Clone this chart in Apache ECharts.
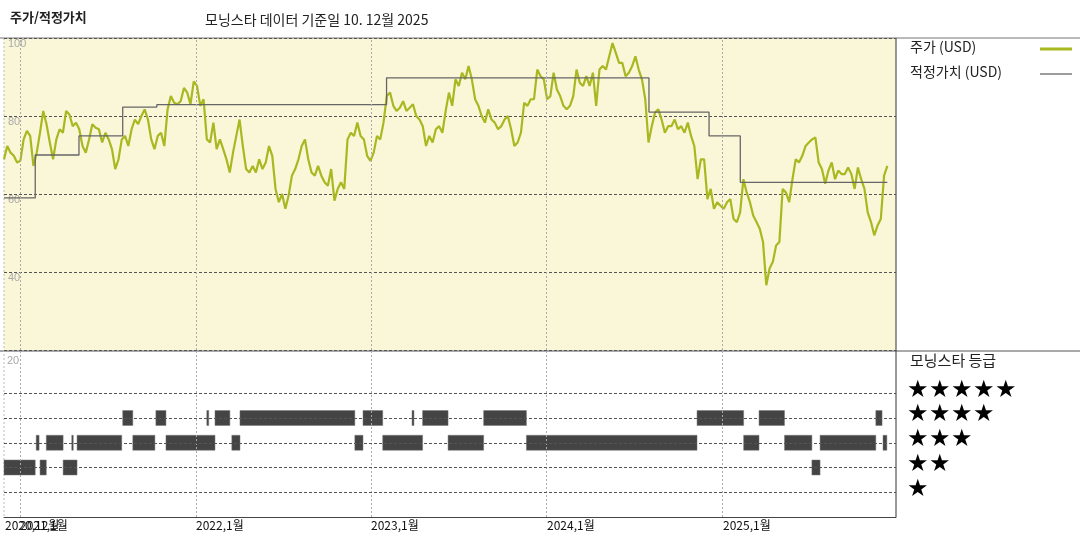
<!DOCTYPE html>
<html><head><meta charset="utf-8">
<script src="https://cdn.jsdelivr.net/npm/echarts@6/dist/echarts.min.js"></script>
<style>html,body{margin:0;padding:0;background:#fff}#c{width:1080px;height:540px}</style>
</head><body><div id="c"></div>
<script>
const priceStart = '2020-11-28';
const priceEnd = '2025-12-10';
const priceValues = [68.9,72.3,70.6,69.8,68.1,68.5,74,76.2,74.9,67.2,70.6,75.7,81.3,77.9,73.2,68.9,74,76.6,75.7,81.3,80.4,77.4,78.3,76.6,72.3,70.6,74,77.9,77,76.6,73.2,75.7,74,71.5,66.4,68.9,74,74.9,72.3,76.6,79.1,77.9,80,81.7,79.1,74,71.5,74.9,75.7,72.3,81.7,85.1,83.4,83,83.8,87.2,86,83,88.9,87.7,82.6,84.3,74,73.2,78.3,71.5,74,71.5,68.9,65.5,70.6,74.9,79.1,72.3,66.4,65.5,67.2,65.5,68.9,66.4,68.1,72.3,69.8,61.3,57.9,60,56.2,59.6,64.7,66.4,68.9,72.3,74,68.9,65.5,64.7,67.2,64.7,63,62.1,66.4,58.3,61.3,63,61.3,74,75.7,74.9,78.3,74.9,74,69.8,68.5,70.6,74.9,74,78.3,85.1,86,82.6,81.3,82.1,83.8,81.3,82.1,83,80,79.1,77.4,72.3,74.9,73.2,76.6,77.4,75.7,81.3,86,
82.6,89.4,87.7,91.1,89.4,92.8,89.4,84.3,82.6,80,78.3,81.7,79.1,78.3,76.6,77.4,79.1,80,76.6,72.3,73.2,75.7,83.4,82.6,84.3,84.3,91.9,90.2,89.4,84.3,85.1,91.1,86.8,85.1,82.6,81.7,82.6,85.1,91.9,88.5,87.7,90.2,87.7,91.1,82.6,91.9,92.8,91.9,95.3,98.7,96.2,93.6,93.6,90.2,91.1,92.8,95.3,91.9,89.4,84.3,73.2,77.4,80.9,81.7,79.1,75.7,77.4,77.4,79.1,76.6,77.4,75.7,78.3,74.9,72.3,63.8,68.9,68.9,58.7,61.3,56.2,57.9,57,56.2,57.9,58.7,53.6,52.8,55.3,63.8,60.4,57.9,54.5,52.8,51.1,47.7,36.6,40.9,42.6,46.8,47.7,61.3,60.4,57.9,63.8,68.9,68.1,69.8,72.3,73.2,74,74.5,68.1,66.4,62.6,66,68.1,63.8,66,65.1,65.1,66.8,65.1,61.3,66.8,63.8,61.3,55.3,52.8,49.4,51.9,53.6,64.7,67.2];
const fairDates = ['2020-11-28','2021-02-01','2021-05-03','2021-08-02','2021-10-12','2023-02-02','2024-08-01','2024-12-04','2025-02-07','2025-12-10'];
const fairValues = [59,70,74.9,82.3,82.9,89.8,81,74.9,63,63];
// rating segments: [start, end, stars]
const ratingSegments = [
 ['2020-11-28','2021-02-01',2],['2021-02-03','2021-02-09',3],['2021-02-11','2021-02-24',2],['2021-02-24','2021-03-31',3],
 ['2021-03-31','2021-04-29',2],['2021-04-18','2021-04-20',3],['2021-04-29','2021-07-31',3],['2021-08-02','2021-08-23',4],
 ['2021-08-23','2021-10-08',3],['2021-10-10','2021-10-31',4],['2021-10-31','2022-02-10',3],['2022-01-24','2022-01-28',4],
 ['2022-02-10','2022-03-13',4],['2022-03-17','2022-04-03',3],['2022-04-03','2022-11-28',4],['2022-11-28','2022-12-15',3],
 ['2022-12-15','2023-01-25',4],['2023-01-25','2023-04-18',3],['2023-03-27','2023-03-31',4],['2023-04-18','2023-06-10',4],
 ['2023-06-10','2023-08-23',3],['2023-08-23','2023-11-20',4],['2023-11-20','2024-11-09',3],['2024-11-09','2025-02-14',4],
 ['2025-02-14','2025-03-18',3],['2025-03-18','2025-05-10',4],['2025-05-10','2025-07-06',3],['2025-07-06','2025-07-23',2],
 ['2025-07-23','2025-11-16',3],['2025-11-16','2025-11-29',4],['2025-12-01','2025-12-09',3]
];
const tickDates = ['2020-12-01','2021-01-01','2022-01-01','2023-01-01','2024-01-01','2025-01-01'];
const tickLabels = ['2020,12월','2021,1월','2022,1월','2023,1월','2024,1월','2025,1월'];
const gridYears = ['2021-01-01','2022-01-01','2023-01-01','2024-01-01','2025-01-01'];
const priceTicks = [40,60,80,100];
const ratingLevels = [1,2,3,4,5];
const starLabels = ['★★★★★','★★★★','★★★','★★','★'];

const t0 = +new Date(priceStart), t1 = +new Date(priceEnd);
const priceData = priceValues.map((v,i)=>[t0+(t1-t0)*i/(priceValues.length-1), v]);
const fairData = fairDates.map((d,i)=>[d,fairValues[i]]);
const xMin = '2020-11-28', xMax = '2025-12-28';
const vlines = gridYears.map(d=>({xAxis:d}));
const KF = 'Noto Sans CJK KR';

const chart = echarts.init(document.getElementById('c'));
const baseGraphic = [
    {type:'line',shape:{x1:0,y1:38,x2:1080,y2:38},style:{stroke:'#777',lineWidth:1}},
    {type:'line',shape:{x1:0,y1:351,x2:1080,y2:351},style:{stroke:'#555',lineWidth:1}},
    {type:'line',shape:{x1:896,y1:38,x2:896,y2:517},style:{stroke:'#333',lineWidth:1}},
    {type:'line',shape:{x1:4,y1:38,x2:4,y2:517},style:{stroke:'#bbb',lineWidth:1,lineDash:[2,2]}},
    {type:'text',left:7,top:355,style:{text:'20',fill:'#aaa',fontSize:11}},
    {type:'text',left:910,top:40,style:{text:'주가 (USD)',fill:'#222',fontSize:14,fontFamily:KF}},
    {type:'line',shape:{x1:1040,y1:49,x2:1072,y2:49},style:{stroke:'#a8b820',lineWidth:3}},
    {type:'text',left:910,top:65,style:{text:'적정가치 (USD)',fill:'#222',fontSize:14,fontFamily:KF}},
    {type:'line',shape:{x1:1040,y1:74,x2:1072,y2:74},style:{stroke:'#666',lineWidth:1.3}},
    {type:'text',left:910,top:353,style:{text:'모닝스타 등급',fill:'#222',fontSize:15,fontFamily:KF}}
].concat(starLabels.map((s,i)=>({type:'text',left:907,top:378+i*24.8,style:{text:s,fill:'#000',fontSize:24}})));
chart.setOption({
  animation:false,
  grid:[{left:4,right:184,top:38,height:312,backgroundColor:'#faf6d8',show:true,borderWidth:0},
        {left:4,right:184,top:352,height:165,show:false}],
  title:[{text:'주가/적정가치',left:5,top:6,textStyle:{fontSize:13,fontWeight:'bold',color:'#222',fontFamily:KF}},
         {text:'모닝스타 데이터 기준일 10. 12월 2025',left:200,top:8,textStyle:{fontSize:14,fontWeight:'normal',color:'#222',fontFamily:KF}}],
  xAxis:[{type:'time',gridIndex:0,min:xMin,max:xMax,axisLine:{show:false},axisTick:{show:false},axisLabel:{show:false},splitLine:{show:false}},
         {type:'time',gridIndex:1,min:xMin,max:xMax,axisLine:{show:true,lineStyle:{color:'#444'}},axisTick:{show:false},splitLine:{show:false},axisLabel:{show:false}}],
  yAxis:[{type:'value',gridIndex:0,min:20,max:100,interval:20,axisLine:{show:false},axisTick:{show:false},
          splitLine:{show:true,lineStyle:{type:[3,2],color:'#555'}},
          axisLabel:{inside:true,verticalAlign:'top',color:'#aaa',fontSize:11,margin:4,formatter:v=>priceTicks.includes(v)?String(v):''}},
         {type:'value',gridIndex:1,min:0,max:6.667,axisLine:{show:false},axisTick:{show:false},splitLine:{show:false},axisLabel:{show:false}}],
  graphic:baseGraphic,
  series:[
    {name:'주가 (USD)',type:'line',xAxisIndex:0,yAxisIndex:0,data:priceData,showSymbol:false,
     lineStyle:{color:'#a8b820',width:2.2},itemStyle:{color:'#a8b820'},
     markLine:{silent:true,symbol:'none',label:{show:false},lineStyle:{type:[2,2],color:'#aaa',width:1},data:vlines}},
    {name:'적정가치 (USD)',type:'line',step:'end',xAxisIndex:0,yAxisIndex:0,data:fairData,showSymbol:false,
     lineStyle:{color:'#666',width:1.3},itemStyle:{color:'#666'}},
    {name:'rating',type:'custom',xAxisIndex:1,yAxisIndex:1,data:ratingSegments.map(s=>[+new Date(s[0]),+new Date(s[1]),s[2]]),
     encode:{x:[0,1],y:2},
     renderItem:(params,api)=>{
       const a=api.coord([api.value(0),api.value(2)]), b=api.coord([api.value(1),api.value(2)]);
       return {type:'rect',shape:{x:a[0],y:a[1]-7.5,width:Math.max(b[0]-a[0],1.5),height:15},style:{fill:'#444',stroke:'#777',lineWidth:0.5}};
     },
     markLine:{silent:true,symbol:'none',label:{show:false},lineStyle:{type:[2,2],color:'#aaa',width:1},
       data:vlines.concat(ratingLevels.map(v=>({yAxis:v,lineStyle:{color:'#555',type:[3,2]}})))}}
  ]
});
const labelGraphic = tickDates.map((d,i)=>{
  const p = chart.convertToPixel({xAxisIndex:1}, +new Date(d));
  return {type:'text',left:Math.round(p),top:519,style:{text:tickLabels[i],fill:'#111',fontSize:12,fontFamily:KF}};
});
chart.setOption({graphic:baseGraphic.concat(labelGraphic)});
</script></body></html>
